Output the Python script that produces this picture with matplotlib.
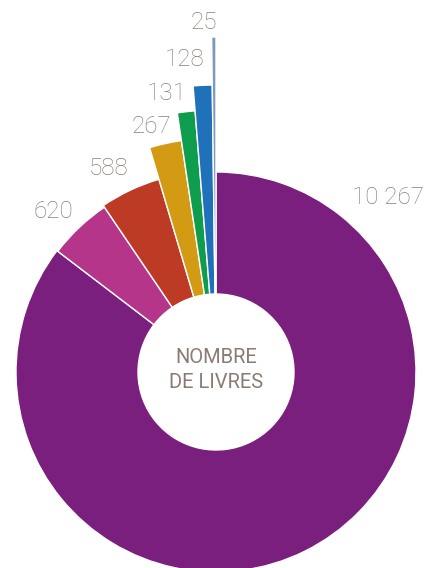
import matplotlib.pyplot as plt
import numpy as np

# nombre de livres par categorie
valeurs = [10267, 620, 588, 267, 131, 128, 25]
etiquettes = ["10 267", "620", "588", "267", "131", "128", "25"]
couleurs = ["#7a1f7e", "#b5358a", "#bd3a25", "#d39a14", "#0e9c4d", "#1f71ba", "#7f98be"]

# rayon exterieur de chaque part (en pixels), trou central
rayons = [200, 199, 201, 234, 262, 287, 335]
trou = 78
# decalage des etiquettes : (ecart radial, ecart angulaire en degres)
pad_r = [45, 29, 29, 20, 21, 27, 15]
pad_a = [0, 2.0, 2.6, 2.1, 3.5, 3.0, 1.6]

gris = "#8f7e78"

fig = plt.figure(figsize=(4.32, 5.68), dpi=100)
ax = fig.add_axes([0, 0, 1, 1])

wedges, _ = ax.pie(valeurs, startangle=90, counterclock=False,
                   colors=couleurs, radius=200,
                   wedgeprops=dict(edgecolor="white", linewidth=1.0))

for i, w in enumerate(wedges):
    w.set_radius(rayons[i])
    w.set_width(rayons[i] - trou)
    if i == 0:
        ang = 45.5
    else:
        ang = (w.theta1 + w.theta2) / 2 + pad_a[i]
    r = rayons[i] + pad_r[i]
    x = r * np.cos(np.radians(ang))
    y = r * np.sin(np.radians(ang))
    ax.text(x, y, etiquettes[i], ha="center", va="center", fontsize=17.5,
            family="Roboto", fontweight="light", color=gris)

ax.text(0, 2, "NOMBRE\nDE LIVRES", ha="center", va="center", fontsize=14.5,
        family="Roboto", color="#8c7b75", linespacing=1.35)

ax.set_xlim(-216, 216)
ax.set_ylim(-196, 372)
ax.set_aspect("equal")
ax.set_axis_off()

plt.savefig("out.png", dpi=100)
